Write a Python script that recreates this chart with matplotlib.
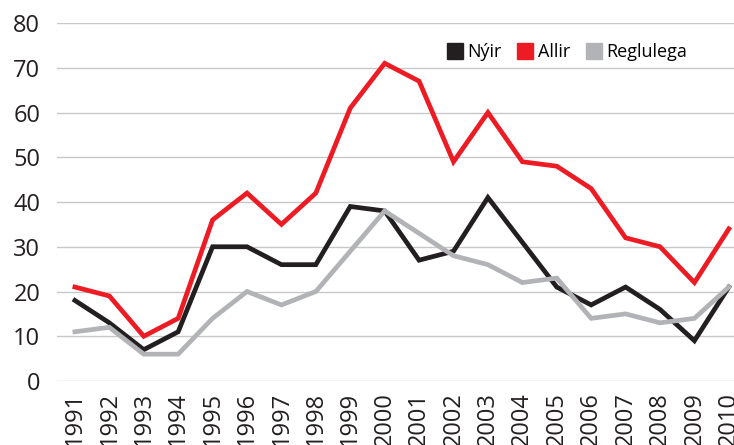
import matplotlib
matplotlib.use("Agg")
import matplotlib.pyplot as plt

# Data
years = [str(y) for y in range(1991, 2011)]
nyir = [18, 13, 7, 11, 30, 30, 26, 26, 39, 38, 27, 29, 41, 31, 21, 17, 21, 16, 9, 21]
allir = [21, 19, 10, 14, 36, 42, 35, 42, 61, 71, 67, 49, 60, 49, 48, 43, 32, 30, 22, 34]
reglulega = [11, 12, 6, 6, 14, 20, 17, 20, 29, 38, 33, 28, 26, 22, 23, 14, 15, 13, 14, 21]

plt.rcParams['font.family'] = ['Open Sans', 'DejaVu Sans']

fig = plt.figure(figsize=(7.34, 4.45), dpi=100)
ax = fig.add_axes([0.0777, 0.1438, 0.9223, 0.8045])

x = range(len(years))
ax.plot(x, nyir, color="#231f20", lw=3.4, label="Nýir", solid_joinstyle="miter")
ax.plot(x, allir, color="#ed1c24", lw=3.4, label="Allir", solid_joinstyle="miter")
ax.plot(x, reglulega, color="#b1b3b6", lw=3.4, label="Reglulega", solid_joinstyle="miter")

ax.set_ylim(0, 80)
ax.set_xlim(-0.52, 19.15)
ax.set_yticks(range(0, 81, 10))
ax.set_xticks(list(x))
ax.set_xticklabels(years, rotation=90, va="top")
ax.tick_params(axis="y", length=0, pad=12, labelsize=17, colors="#231f20")
ax.tick_params(axis="x", length=0, pad=8, labelsize=17, colors="#231f20")
ax.grid(axis="y", color="#c8c8c8", lw=1)
ax.set_axisbelow(True)
for s in ax.spines.values():
    s.set_visible(False)

handles = [plt.Line2D([], [], marker="s", ls="none", markersize=12, color=c)
           for c in ["#231f20", "#ed1c24", "#b1b3b6"]]
ax.legend(handles, ["Nýir", "Allir", "Reglulega"], ncol=3, frameon=False,
          loc="upper right", bbox_to_anchor=(0.955, 0.99), fontsize=13,
          handletextpad=0.2, columnspacing=0.8, handlelength=1.0)

fig.savefig("out.png", dpi=100)
